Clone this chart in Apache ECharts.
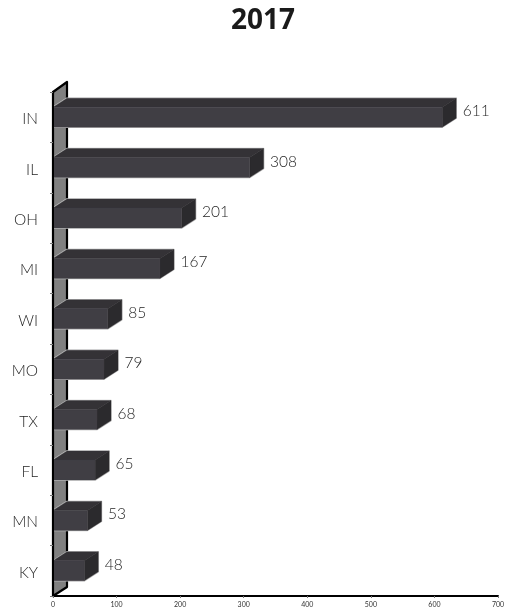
<!DOCTYPE html>
<html><head><meta charset="utf-8">
<style>html,body{margin:0;padding:0;background:#fff}#c{width:517px;height:614px}</style>
<script src="https://cdn.jsdelivr.net/npm/echarts@6/dist/echarts.min.js"></script>
</head><body><div id="c"></div>
<script>
var categories = ['IN','IL','OH','MI','WI','MO','TX','FL','MN','KY'];
var values = [611,308,201,167,85,79,68,65,53,48];
var xTicks = [0,100,200,300,400,500,600,700];
var titleText = '2017';

var DX = 14, DY = -9, FRONT = 20;
var font = 'Lato';
var chart = echarts.init(document.getElementById('c'), null, {renderer:'canvas'});

function poly(pts, fill, stroke, w){
  return {type:'polygon', shape:{points:pts}, style:{fill:fill, stroke:stroke||null, lineWidth:w||0, lineJoin:'round'}};
}
function renderBar(params, api){
  var v = api.value(0), c = api.value(1);
  var p0 = api.coord([0,c]), p1 = api.coord([v,c]);
  var x0 = p0[0], x1 = p1[0]+0.8, t = p0[1]-FRONT/2, b = p0[1]+FRONT/2;
  return {type:'group', children:[
    poly([[x0,t],[x0+DX,t+DY],[x1+DX,t+DY],[x1+DX,b+DY],[x1,b],[x0,b]], '#bdbdbd', '#c4c4c4', 1.5),
    poly([[x0,t],[x0+DX,t+DY],[x1+DX,t+DY],[x1,t]], '#343236', '#343236', 0.3),
    poly([[x1,t],[x1+DX,t+DY],[x1+DX,b+DY],[x1,b]], '#2b2a2d', '#2b2a2d', 0.3),
    poly([[x0,t],[x1,t],[x1,b],[x0,b]], '#403e44', '#403e44', 0.3),
    {type:'text', style:{x:x1+DX+6.5, y:p0[1]-6, text:String(v), fill:'#1f1f1f', font:'300 15.5px '+font, textAlign:'left', textVerticalAlign:'middle'}}
  ]};
}
function renderWall(params, api){
  var cs = params.coordSys, l = cs.x, t = cs.y, b = cs.y+cs.height;
  return {type:'group', children:[
    poly([[l,t],[l+DX,t-10],[l+DX,b+DY],[l,b]], '#808080', '#000', 2.2)
  ]};
}
chart.setOption({
  animation:false,
  backgroundColor:'#fff',
  title:{text:titleText, left:226, top:2, textStyle:{fontFamily:'Open Sans', fontWeight:'bold', fontSize:28, color:'#1a1a1a'}},
  grid:{left:53, right:19, top:92, bottom:18, containLabel:false},
  xAxis:{type:'value', min:0, max:700, interval:100, splitLine:{show:false}, z:5,
    axisLine:{show:true, lineStyle:{color:'#000', width:2}},
    axisTick:{show:true, length:2, lineStyle:{color:'#777', width:1}},
    axisLabel:{fontFamily:font, fontWeight:400, fontSize:7, color:'#333', margin:5,
      formatter:function(v){return xTicks.indexOf(v)>=0?String(v):'';}}},
  yAxis:{type:'category', data:categories, inverse:true, z:5,
    axisLine:{show:true, lineStyle:{color:'#000', width:2}},
    axisTick:{show:true, length:3, lineStyle:{color:'#777', width:1}},
    axisLabel:{fontFamily:font, fontWeight:300, fontSize:15.5, color:'#1f1f1f', margin:15, verticalAlign:'top', lineHeight:4}},
  series:[
    {type:'custom', coordinateSystem:'cartesian2d', renderItem:renderWall, data:[[0,0]], encode:{x:0,y:1}, silent:true, z:1, clip:false},
    {type:'custom', coordinateSystem:'cartesian2d', renderItem:renderBar,
      data:values.map(function(v,i){return [v,i];}), encode:{x:0,y:1}, silent:true, z:3, clip:false}
  ]
});
</script></body></html>
